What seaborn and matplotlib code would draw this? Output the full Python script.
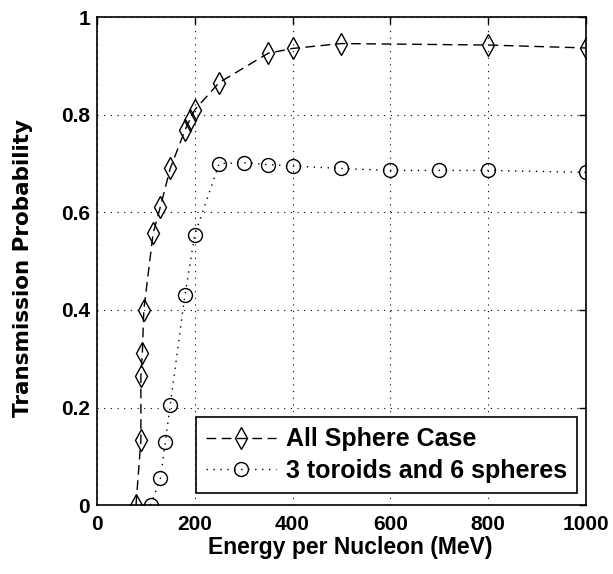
import pandas as pd
import matplotlib
matplotlib.use('Agg')
import matplotlib.pyplot as plt
import seaborn as sns

# All Sphere Case
energy_sphere = [80, 90, 90, 93, 96, 115, 130, 150, 180, 190, 200, 250, 350, 400, 500, 800, 1000]
prob_sphere = [0.0, 0.133, 0.265, 0.311, 0.40, 0.557, 0.612, 0.69, 0.768, 0.79, 0.81, 0.866, 0.926, 0.936, 0.946, 0.943, 0.937]

# 3 toroids and 6 spheres
energy_toroid = [110, 130, 140, 150, 180, 200, 250, 300, 350, 400, 500, 600, 700, 800, 1000]
prob_toroid = [0.0, 0.055, 0.13, 0.205, 0.43, 0.553, 0.70, 0.702, 0.698, 0.695, 0.69, 0.686, 0.686, 0.686, 0.682]

sns.set_style('white')
plt.rcParams['font.family'] = ['Liberation Sans', 'DejaVu Sans']
plt.rcParams['font.weight'] = 'bold'
plt.rcParams['text.color'] = 'black'
plt.rcParams['axes.labelcolor'] = 'black'
plt.rcParams['xtick.color'] = 'black'
plt.rcParams['ytick.color'] = 'black'

df_sphere = pd.DataFrame({'Energy': energy_sphere, 'Prob': prob_sphere})
df_toroid = pd.DataFrame({'Energy': energy_toroid, 'Prob': prob_toroid})

fig = plt.figure(figsize=(6.13, 5.74), dpi=100)
ax = fig.add_axes([0.158, 0.120, 0.798, 0.850])

sns.lineplot(data=df_sphere, x='Energy', y='Prob', ax=ax, color='black', sort=False,
             linestyle=(0, (7, 4)), linewidth=1.0, marker='d', markersize=11,
             markerfacecolor='none', markeredgecolor='black', markeredgewidth=1.0,
             label='All Sphere Case', estimator=None)
sns.lineplot(data=df_toroid, x='Energy', y='Prob', ax=ax, color='black', sort=False,
             linestyle=(0, (1, 4)), linewidth=1.0, marker='o', markersize=10,
             markerfacecolor='none', markeredgecolor='black', markeredgewidth=1.0,
             label='3 toroids and 6 spheres', estimator=None)

ax.set_xlim(0, 1000)
ax.set_ylim(0, 1)
ax.set_xticks([0, 200, 400, 600, 800, 1000])
ax.set_yticks([0, 0.2, 0.4, 0.6, 0.8, 1])
ax.set_yticklabels(['0', '0.2', '0.4', '0.6', '0.8', '1'])
ax.grid(True, color='black', linestyle=(0, (1, 5)), linewidth=0.8)
ax.tick_params(direction='in', length=5, width=1, top=True, right=True, labelsize=15)
ax.tick_params(axis='y', pad=5)
ax.tick_params(axis='x', pad=7)
for lbl in ax.get_xticklabels() + ax.get_yticklabels():
    lbl.set_fontweight('bold')
for s in ax.spines.values():
    s.set_color('black')
    s.set_linewidth(1.2)

ax.set_xlabel('Energy per Nucleon (MeV)', fontsize=16.5, fontweight='bold')
ax.set_ylabel('Transmission Probability', fontsize=15.5, fontweight='bold',
              family=['DejaVu Sans'])
ax.xaxis.set_label_coords(0.517, -0.064)
ax.yaxis.set_label_coords(-0.13, 0.485)

leg = ax.legend(loc='lower right', fontsize=18, frameon=True, fancybox=False,
                edgecolor='black', framealpha=1, handlelength=2.8, borderpad=0.4,
                labelspacing=0.3, handletextpad=0.4, borderaxespad=0,
                bbox_to_anchor=(0.982, 0.025))
leg.get_frame().set_linewidth(1.2)
for t in leg.get_texts():
    t.set_fontweight('bold')

fig.savefig('out.png', dpi=100)
